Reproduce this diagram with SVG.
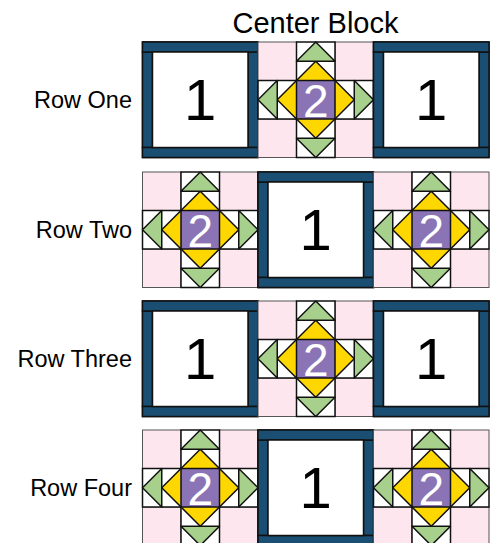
<svg xmlns="http://www.w3.org/2000/svg" xmlns:xlink="http://www.w3.org/1999/xlink" width="495" height="543" viewBox="0 0 495 543">
<style>
.lbl{font-family:"Liberation Sans",Arial,sans-serif;font-size:23.5px;fill:#000;text-anchor:end}
.ttl{font-family:"Liberation Sans",Arial,sans-serif;font-size:29px;fill:#000;text-anchor:middle}
.one{font-family:"Liberation Sans",Arial,sans-serif;font-size:58px;fill:#000;text-anchor:middle}
.two{font-family:"Liberation Sans",Arial,sans-serif;font-size:46px;fill:#fff;text-anchor:middle}
.blue{fill:#1a4f73;stroke:#111;stroke-width:1.5}
.wht{fill:#fff;stroke:#111;stroke-width:1.5}
.pink{fill:#fde6ee;stroke:#555;stroke-width:1}
.edge{fill:#fff;stroke:#111;stroke-width:1.5}
.grn{fill:#a8d08d;stroke:#111;stroke-width:1.5;stroke-linejoin:round}
.yel{fill:#ffd700;stroke:#111;stroke-width:1.5;stroke-linejoin:round}
.pur{fill:#8b74b5;stroke:#111;stroke-width:1.5}
</style>
<defs>
<g id="b1">
<rect class="blue" x="0" y="0" width="115.5" height="115.5"/>
<rect class="blue" x="0" y="10" width="10" height="95.5"/>
<rect class="blue" x="105.5" y="10" width="10" height="95.5"/>
<rect class="blue" x="0" y="0" width="115.5" height="10"/>
<rect class="blue" x="0" y="105.5" width="115.5" height="10"/>
<rect class="wht" x="10" y="10" width="95.5" height="95.5"/>
</g>
<g id="b2">
<rect class="pink" x="0" y="0" width="38.5" height="38.5"/>
<rect class="pink" x="77" y="0" width="38.5" height="38.5"/>
<rect class="pink" x="0" y="77" width="38.5" height="38.5"/>
<rect class="pink" x="77" y="77" width="38.5" height="38.5"/>
<rect class="edge" x="38.5" y="0" width="38.5" height="38.5"/>
<rect class="edge" x="0" y="38.5" width="38.5" height="38.5"/>
<rect class="edge" x="77" y="38.5" width="38.5" height="38.5"/>
<rect class="edge" x="38.5" y="77" width="38.5" height="38.5"/>
<polygon class="yel" points="57.75,19.25 96.25,57.75 57.75,96.25 19.25,57.75"/>
<polygon class="grn" points="38.5,19.25 57.75,0 77,19.25"/>
<polygon class="grn" points="38.5,96.25 57.75,115.5 77,96.25"/>
<polygon class="grn" points="19.25,38.5 0,57.75 19.25,77"/>
<polygon class="grn" points="96.25,38.5 115.5,57.75 96.25,77"/>
<rect class="pur" x="38.5" y="38.5" width="38.5" height="38.5"/>
</g>
</defs>
<text class="ttl" x="315.5" y="33">Center Block</text>
<g id="labels">
<text class="lbl" x="132" y="108">Row One</text>
<text class="lbl" x="132" y="238">Row Two</text>
<text class="lbl" x="132" y="367">Row Three</text>
<text class="lbl" x="132" y="496">Row Four</text>
</g>
<g id="r1c1"><use xlink:href="#b1" x="142.5" y="42"/><text class="one" x="200.25" y="120">1</text></g>
<g id="r1c2"><use xlink:href="#b2" x="258" y="42"/><text class="two" x="315.75" y="116.5">2</text></g>
<g id="r1c3"><use xlink:href="#b1" x="373.5" y="42"/><text class="one" x="431.25" y="120">1</text></g>
<g id="r2c1"><use xlink:href="#b2" x="142.5" y="172"/><text class="two" x="200.25" y="246.5">2</text></g>
<g id="r2c2"><use xlink:href="#b1" x="258" y="172"/><text class="one" x="315.75" y="250">1</text></g>
<g id="r2c3"><use xlink:href="#b2" x="373.5" y="172"/><text class="two" x="431.25" y="246.5">2</text></g>
<g id="r3c1"><use xlink:href="#b1" x="142.5" y="301"/><text class="one" x="200.25" y="379">1</text></g>
<g id="r3c2"><use xlink:href="#b2" x="258" y="301"/><text class="two" x="315.75" y="375.5">2</text></g>
<g id="r3c3"><use xlink:href="#b1" x="373.5" y="301"/><text class="one" x="431.25" y="379">1</text></g>
<g id="r4c1"><use xlink:href="#b2" x="142.5" y="430"/><text class="two" x="200.25" y="504.5">2</text></g>
<g id="r4c2"><use xlink:href="#b1" x="258" y="430"/><text class="one" x="315.75" y="508">1</text></g>
<g id="r4c3"><use xlink:href="#b2" x="373.5" y="430"/><text class="two" x="431.25" y="504.5">2</text></g>
<g id="connectors"/>
</svg>
